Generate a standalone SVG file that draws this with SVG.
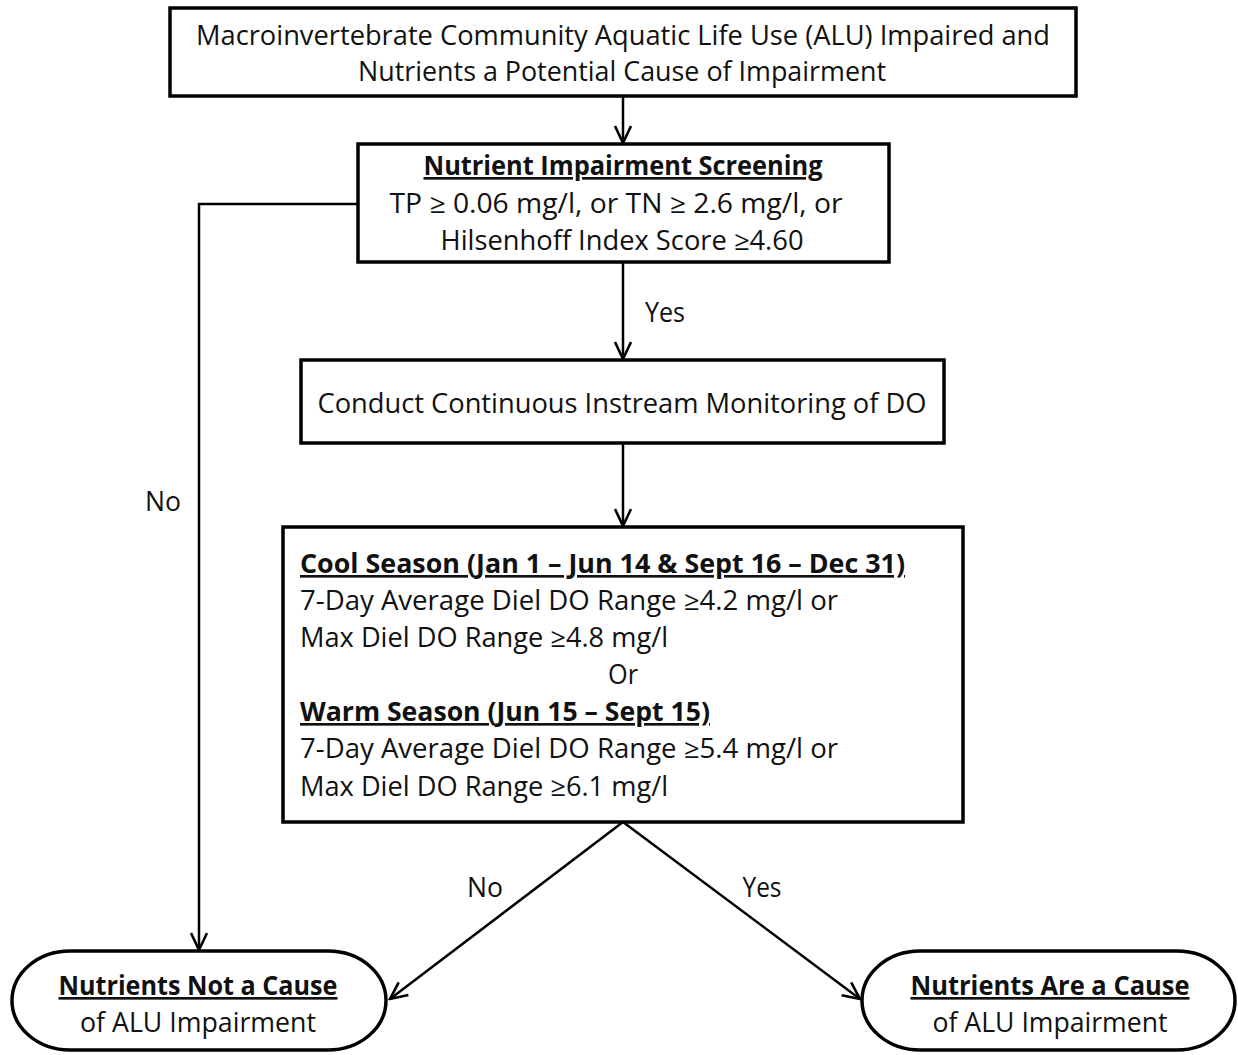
<svg xmlns="http://www.w3.org/2000/svg" width="1238" height="1055" viewBox="0 0 1238 1055">
<style>
.box{fill:#fff;stroke:#000;stroke-width:3.5}
.conn{fill:none;stroke:#000;stroke-width:2.5}
text{font-family:"Open Sans","Noto Sans","Liberation Sans",sans-serif;font-size:26.5px;fill:#111}
.c{text-anchor:middle}
.b{font-weight:bold;text-decoration:underline;text-decoration-skip-ink:none}
</style>
<defs>
<marker id="arr" markerUnits="userSpaceOnUse" viewBox="0 0 20 20" refX="18.5" refY="10" markerWidth="20" markerHeight="20" orient="auto">
<path d="M1.5,2 L18.5,10 L1.5,18" fill="none" stroke="#000" stroke-width="2.6" stroke-linejoin="miter"/>
</marker>
</defs>
<rect width="1238" height="1055" fill="#fff"/>
<g id="connectors">
<line class="conn" x1="623" y1="96" x2="623" y2="143" marker-end="url(#arr)"/>
<line class="conn" x1="623" y1="262" x2="623" y2="359" marker-end="url(#arr)"/>
<line class="conn" x1="623" y1="443" x2="623" y2="526" marker-end="url(#arr)"/>
<polyline class="conn" points="358,204 199,204 199,950" marker-end="url(#arr)"/>
<line class="conn" x1="623" y1="822" x2="390" y2="999" marker-end="url(#arr)"/>
<line class="conn" x1="623" y1="822" x2="860" y2="999" marker-end="url(#arr)"/>
<text x="665" y="322" class="c" textLength="40" lengthAdjust="spacingAndGlyphs">Yes</text>
<text x="163" y="511" class="c" textLength="36" lengthAdjust="spacingAndGlyphs">No</text>
<text x="485" y="897" class="c" textLength="36" lengthAdjust="spacingAndGlyphs">No</text>
<text x="762" y="897" class="c" textLength="39" lengthAdjust="spacingAndGlyphs">Yes</text>
</g>
<g id="start">
<rect class="box" x="170" y="8" width="906" height="88"/>
<text x="623" y="45" class="c" textLength="854" lengthAdjust="spacingAndGlyphs">Macroinvertebrate Community  Aquatic Life Use (ALU) Impaired and</text>
<text x="622" y="81" class="c" textLength="528" lengthAdjust="spacingAndGlyphs">Nutrients a Potential Cause of Impairment</text>
</g>
<g id="screening">
<rect class="box" x="358" y="144" width="531" height="118"/>
<text x="623" y="175" class="c b" textLength="399" lengthAdjust="spacingAndGlyphs">Nutrient Impairment Screening</text>
<text x="616" y="213" class="c" textLength="453" lengthAdjust="spacingAndGlyphs">TP ≥ 0.06 mg/l, or TN ≥ 2.6 mg/l, or</text>
<text x="622" y="250" class="c" textLength="363" lengthAdjust="spacingAndGlyphs">Hilsenhoff Index Score  ≥4.60</text>
</g>
<g id="monitoring">
<rect class="box" x="301" y="360" width="643" height="83"/>
<text x="622" y="413" class="c" textLength="609" lengthAdjust="spacingAndGlyphs">Conduct Continuous Instream Monitoring  of DO</text>
</g>
<g id="criteria">
<rect class="box" x="283" y="527" width="680" height="295"/>
<text x="300" y="573" class="b" textLength="605" lengthAdjust="spacingAndGlyphs">Cool Season (Jan 1 – Jun 14 &amp; Sept 16 – Dec 31)</text>
<text x="300" y="610" textLength="538" lengthAdjust="spacingAndGlyphs">7-Day  Average  Diel DO Range ≥4.2 mg/l or</text>
<text x="300" y="647" textLength="368" lengthAdjust="spacingAndGlyphs">Max Diel DO Range ≥4.8 mg/l</text>
<text x="623" y="684" class="c" textLength="30" lengthAdjust="spacingAndGlyphs">Or</text>
<text x="300" y="721" class="b" textLength="410" lengthAdjust="spacingAndGlyphs">Warm Season (Jun 15 – Sept 15)</text>
<text x="300" y="758" textLength="538" lengthAdjust="spacingAndGlyphs">7-Day  Average  Diel DO Range ≥5.4 mg/l or</text>
<text x="300" y="796" textLength="368" lengthAdjust="spacingAndGlyphs">Max Diel DO Range ≥6.1 mg/l</text>
</g>
<g id="not-cause">
<rect class="box" x="12" y="951" width="374" height="99" rx="58" ry="49.5"/>
<text x="198" y="995" class="c b" textLength="279" lengthAdjust="spacingAndGlyphs">Nutrients Not a Cause</text>
<text x="198" y="1032" class="c" textLength="236" lengthAdjust="spacingAndGlyphs">of ALU Impairment</text>
</g>
<g id="is-cause">
<rect class="box" x="862" y="951" width="373" height="99" rx="58" ry="49.5"/>
<text x="1050" y="995" class="c b" textLength="279" lengthAdjust="spacingAndGlyphs">Nutrients Are a Cause</text>
<text x="1050" y="1032" class="c" textLength="235" lengthAdjust="spacingAndGlyphs">of ALU Impairment</text>
</g>
</svg>
